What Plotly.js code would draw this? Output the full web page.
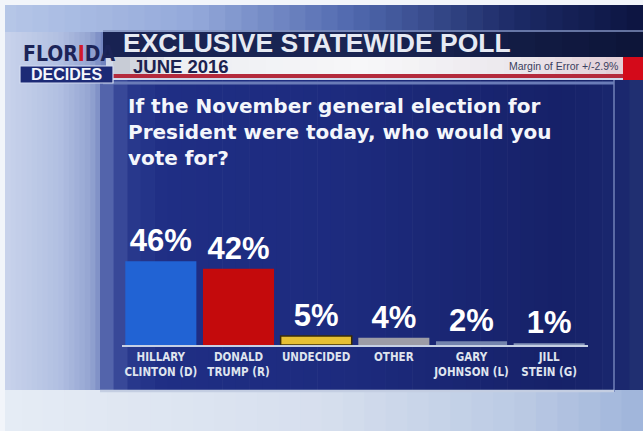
<!DOCTYPE html>
<html><head><meta charset="utf-8">
<script src="https://cdn.plot.ly/plotly-3.0.1.min.js"></script>
<style>html,body{margin:0;padding:0;background:#d0d9ea;} #chart{width:643px;height:431px;}</style>
</head><body><div id="chart"></div>
<script>
// ---- data ----
const categories = ['HILLARY<br>CLINTON (D)', 'DONALD<br>TRUMP (R)', 'UNDECIDED', 'OTHER', 'GARY<br>JOHNSON (L)', 'JILL<br>STEIN (G)'];
const shares = [46, 42, 5, 4, 2, 1];
const valueLabels = ['46%', '42%', '5%', '4%', '2%', '1%'];
const barColors = ['#2163d4', '#c40a0c', '#e6c034', '#9c9ca6', '#7484ae', '#8494b8'];
const headerTitle = 'EXCLUSIVE STATEWIDE POLL';
const headerDate = 'JUNE 2016';
const marginNote = 'Margin of Error +/-2.9%';
const questionLines = ['If the November general election for', 'President were today, who would you', 'vote for?'];

// ---- helpers (decoration only) ----
const W = 643, H = 431;
const px = x => x / W, py = y => 1 - y / H;
const COND = 'DejaVu Sans Condensed, Liberation Sans, sans-serif';
function hex2rgb(h){h=h.replace('#','');return [0,2,4].map(i=>parseInt(h.substr(i,2),16));}
function interp(stops,t){
  for(let i=0;i<stops.length-1;i++){
    const [t0,c0]=stops[i],[t1,c1]=stops[i+1];
    if(t>=t0&&t<=t1){const f=(t-t0)/(t1-t0||1);const a=hex2rgb(c0),b=hex2rgb(c1);
      return 'rgb('+a.map((v,k)=>Math.round(v+(b[k]-v)*f)).join(',')+')';}
  }
  return stops[stops.length-1][1];
}
function rect(x0,y0,x1,y1,fill,line){
  return {type:'rect',xref:'paper',yref:'paper',layer:'below',x0:px(x0),x1:px(x1),y0:py(y1),y1:py(y0),
    fillcolor:fill,line:line||{width:0}};
}
function hgrad(x0,x1,y0,y1,stops,n){
  const out=[];
  for(let i=0;i<n;i++){const a=x0+(x1-x0)*i/n,b=x0+(x1-x0)*(i+1)/n+0.6;
    out.push(rect(a,y0,Math.min(b,x1),y1,interp(stops,(i+0.5)/n)));}
  return out;
}
function hline(x0,x1,y,color,w){
  return {type:'line',xref:'paper',yref:'paper',layer:'below',x0:px(x0),x1:px(x1),y0:py(y),y1:py(y),line:{color:color,width:w}};
}
function vline(x,y0,y1,color,w){
  return {type:'line',xref:'paper',yref:'paper',layer:'below',x0:px(x),x1:px(x),y0:py(y0),y1:py(y1),line:{color:color,width:w}};
}

let shapes = [];
shapes.push(rect(0,0,W,H,'#d0d9ea'));
shapes = shapes.concat(hgrad(0,W,0,32,[[0,'#b6c7e8'],[0.3,'#94a9da'],[0.55,'#5068ae'],[0.8,'#1c2a66'],[1,'#0c1440']],40));
shapes = shapes.concat(hgrad(0,106,32,392,[[0,'#cbd5ec'],[0.55,'#b2c0e2'],[0.85,'#95a5d2'],[1,'#6c7ebc']],20));
shapes = shapes.concat(hgrad(0,W,390,H,[[0,'#e6ecf5'],[0.5,'#d6dfee'],[0.8,'#bccbe4'],[1,'#9fb4da']],30));
shapes = shapes.concat(hgrad(100,W,80,390,[[0,'#6072b4'],[0.05,'#2a3a8e'],[0.12,'#1f2e84'],[0.45,'#1d2b7e'],[0.85,'#162168'],[0.96,'#1a276e'],[1,'#223272']],40));
shapes.push(hline(103,614,83,'#6a7cb8',3));
shapes.push(vline(614,80,392,'#7282b8',1.5));
shapes.push(hline(100,614,391,'#c4cee2',2.5));
shapes.push(hline(103,W,31,'#8090bc',1.5));
shapes = shapes.concat(hgrad(103,W,32,57,[[0,'#182252'],[0.5,'#1a2552'],[1,'#0c1438']],20));
shapes = shapes.concat(hgrad(113,623,57,74,[[0,'#c2c6d2'],[0.12,'#eceef2'],[0.5,'#f7f7f9'],[0.8,'#ebe7ec'],[1,'#e2ced6']],30));
shapes.push(rect(113,74,623,78,'#b42a3c'));
shapes.push(rect(623,57,W,80,'#d40a1a'));
shapes.push(rect(20,66,113,83,'#1c2a76',{color:'#d4dcf2',width:1.2}));
shapes.push(rect(0,0,5,H,'#f2f5fa'));
shapes.push(rect(0,0,W,5,'#f2f5fa'));

const annotations = [
  {x:px(21),y:py(54),xref:'paper',yref:'paper',xanchor:'left',yanchor:'middle',showarrow:false,
   text:"FLOR<span style='color:#d01a2a'>I</span>DA",font:{family:COND,size:21,weight:700,color:'#1c2458'}},
  {x:px(66),y:py(75),xref:'paper',yref:'paper',xanchor:'center',yanchor:'middle',showarrow:false,
   text:'DECIDES',font:{family:'Liberation Sans',size:16,weight:700,color:'#f4f6fc'}},
  {x:px(121),y:py(43.5),xref:'paper',yref:'paper',xanchor:'left',yanchor:'middle',showarrow:false,
   text:headerTitle,font:{family:'Liberation Sans',size:26.5,weight:700,color:'#e6eaf3'}},
  {x:px(131),y:py(67),xref:'paper',yref:'paper',xanchor:'left',yanchor:'middle',showarrow:false,
   text:headerDate,font:{family:'Liberation Sans',size:18.5,weight:700,color:'#1c2250'}},
  {x:px(620),y:py(66),xref:'paper',yref:'paper',xanchor:'right',yanchor:'middle',showarrow:false,
   text:marginNote,font:{family:'Liberation Sans',size:10.5,color:'#3a4060'}}
];
const qY = [106, 132, 158];
questionLines.forEach((t,i)=>annotations.push({x:px(126),y:py(qY[i]),xref:'paper',yref:'paper',xanchor:'left',yanchor:'middle',
  showarrow:false,text:t,font:{family:'DejaVu Sans',size:20,weight:700,color:'#f4f6fb'}}));

const trace = {
  type:'bar', x:categories, y:shares, text:valueLabels, textposition:'outside', texttemplate:'%{text}',
  cliponaxis:false, constraintext:'none',
  textfont:{family:'Liberation Sans',size:31,weight:700,color:'#ffffff'},
  marker:{color:barColors,line:{color:['#1a55b8','#a00808','#3a2c08','#6a6a74','#7484ae','#8494b8'],width:[0,0,1.5,0,0,0]}},
  hoverinfo:'skip'
};

const layout = {
  width:W,height:H,margin:{l:0,r:0,t:0,b:0,pad:0},
  paper_bgcolor:'#d0d9ea',plot_bgcolor:'rgba(0,0,0,0)',
  showlegend:false,bargap:0.085,
  xaxis:{domain:[122/W,588/W],showline:true,linecolor:'#c6d0e4',linewidth:2,ticks:'',showgrid:false,zeroline:false,
    tickfont:{family:COND,size:11.5,weight:700,color:'#dfe4ee'},fixedrange:true},
  yaxis:{domain:[1-345/H,1-257/H],range:[0,48.4],visible:false,fixedrange:true},
  shapes:shapes, annotations:annotations
};
Plotly.newPlot('chart',[trace],layout,{staticPlot:true,displayModeBar:false});
</script></body></html>
